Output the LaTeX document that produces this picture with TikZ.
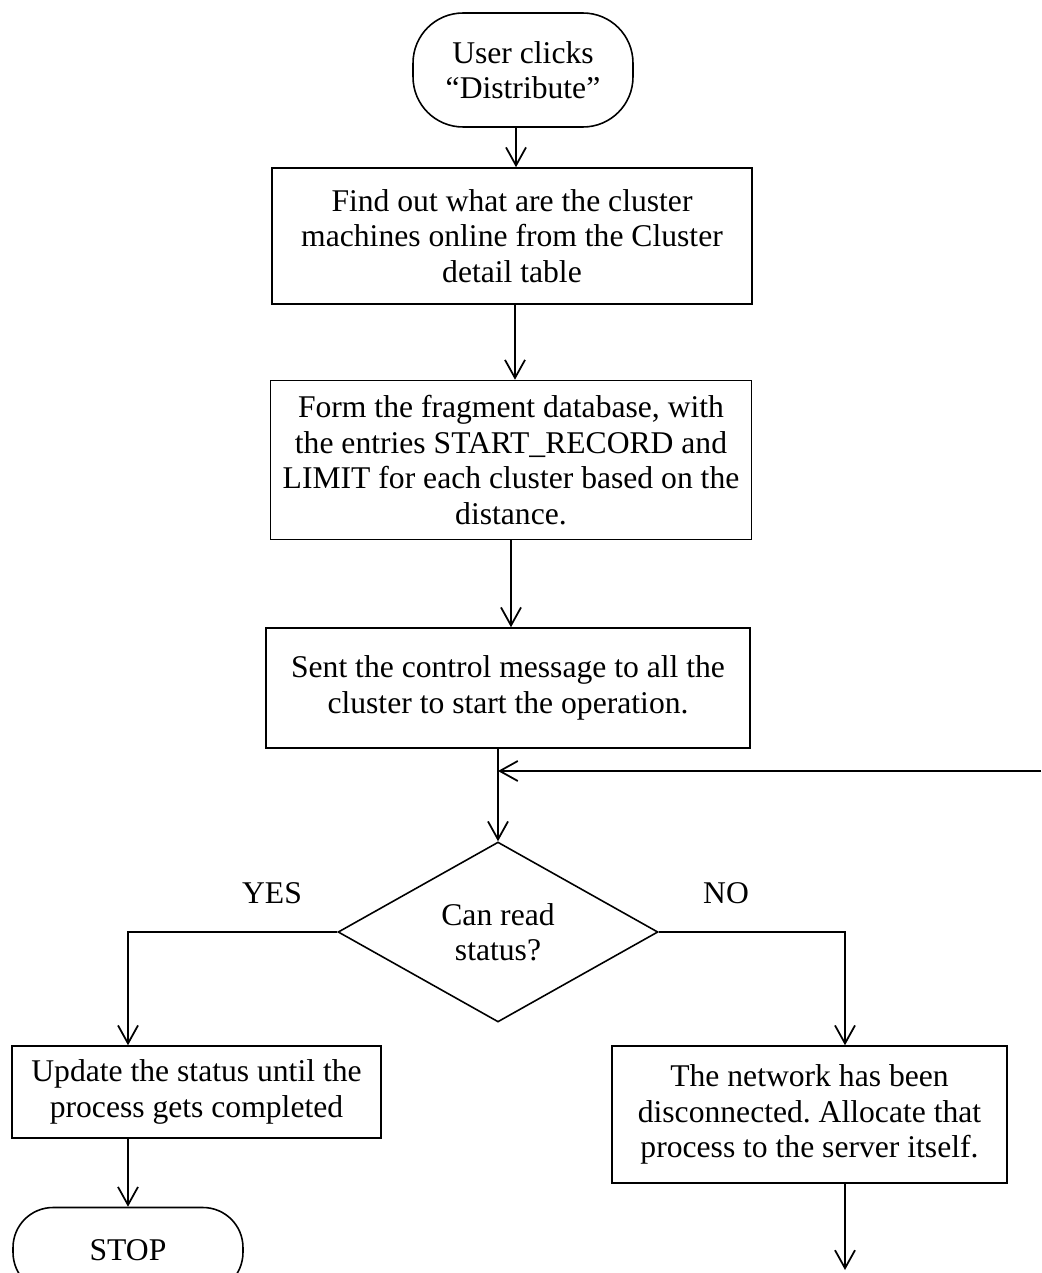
\documentclass[tikz,border=0pt]{standalone}
\usepackage{fontspec}
\setmainfont{Liberation Serif}
\usetikzlibrary{shapes.geometric,arrows.meta}
\frenchspacing

\begin{document}
\begin{tikzpicture}[x=0.02cm,y=-0.02cm,
  font=\fontsize{18}{20.2}\selectfont,
  box/.style={draw,line width=0.9pt,align=center,inner sep=0pt},
  term/.style={box,rounded corners=1cm},
  test/.style={box,diamond,aspect=1.78,minimum width=6.4cm,minimum height=3.6cm},
  flow/.style={draw,line width=1pt,-{Straight Barb[length=3.6mm,width=4mm,line width=1pt]}}]
\clip (0,0) rectangle (1041,1273);

\node[term,minimum width=4.4cm,minimum height=2.28cm] (1) at (523,70) {User clicks\\“Distribute”};
\node[box,minimum width=9.6cm,minimum height=2.72cm] (2) at (512,236) {Find out what are the cluster\\machines online from the Cluster\\detail table};
\node[box,minimum width=9.62cm,minimum height=3.18cm] (3) at (511,460) {Form the fragment database, with\\the entries START\_RECORD and\\LIMIT for each cluster based on the\\distance.};
\node[box,minimum width=9.68cm,minimum height=2.4cm] (4) at (508,688) {Sent the control message to all the\\cluster to start the operation.};
\node[test] (5) at (498,932) {Can read\\status?};
\node[box,minimum width=7.38cm,minimum height=1.84cm] (6) at (196.5,1092) {Update the status until the\\process gets completed};
\node[box,minimum width=7.9cm,minimum height=2.74cm] (7) at (809.5,1114.5) {The network has been\\disconnected. Allocate that\\process to the server itself.};
\node[term,rounded corners=0.8cm,minimum width=4.6cm,minimum height=1.7cm] (8) at (128,1250) {STOP};

\node (yes) at (272,893) {YES};
\node (no) at (726,893) {NO};

\coordinate (back) at (1041,771);
\coordinate (tail) at (845,1270);

\path[flow] ([xshift=-0.14cm]1.south) -- ([xshift=-0.14cm]1.south |- 2.north);
\path[flow] ([xshift=0.06cm]2.south) -- ([xshift=0.06cm]2.south |- 3.north);
\path[flow] (3.south) -- (3.south |- 4.north);
\path[draw,line width=1pt] (4.south -| 5.north) -- (back -| 5.north);
\path[flow] (back -| 5.north) -- (5.north);
\path[flow] (back) -- (back -| 5.north);
\path[flow] (5.west) -| ([xshift=-1.37cm]6.north);
\path[flow] (5.east) -| ([xshift=0.71cm]7.north);
\path[flow] ([xshift=-1.37cm]6.south) -- (8.north);
\path[flow] ([xshift=0.71cm]7.south) -- (tail);
\end{tikzpicture}
\end{document}
